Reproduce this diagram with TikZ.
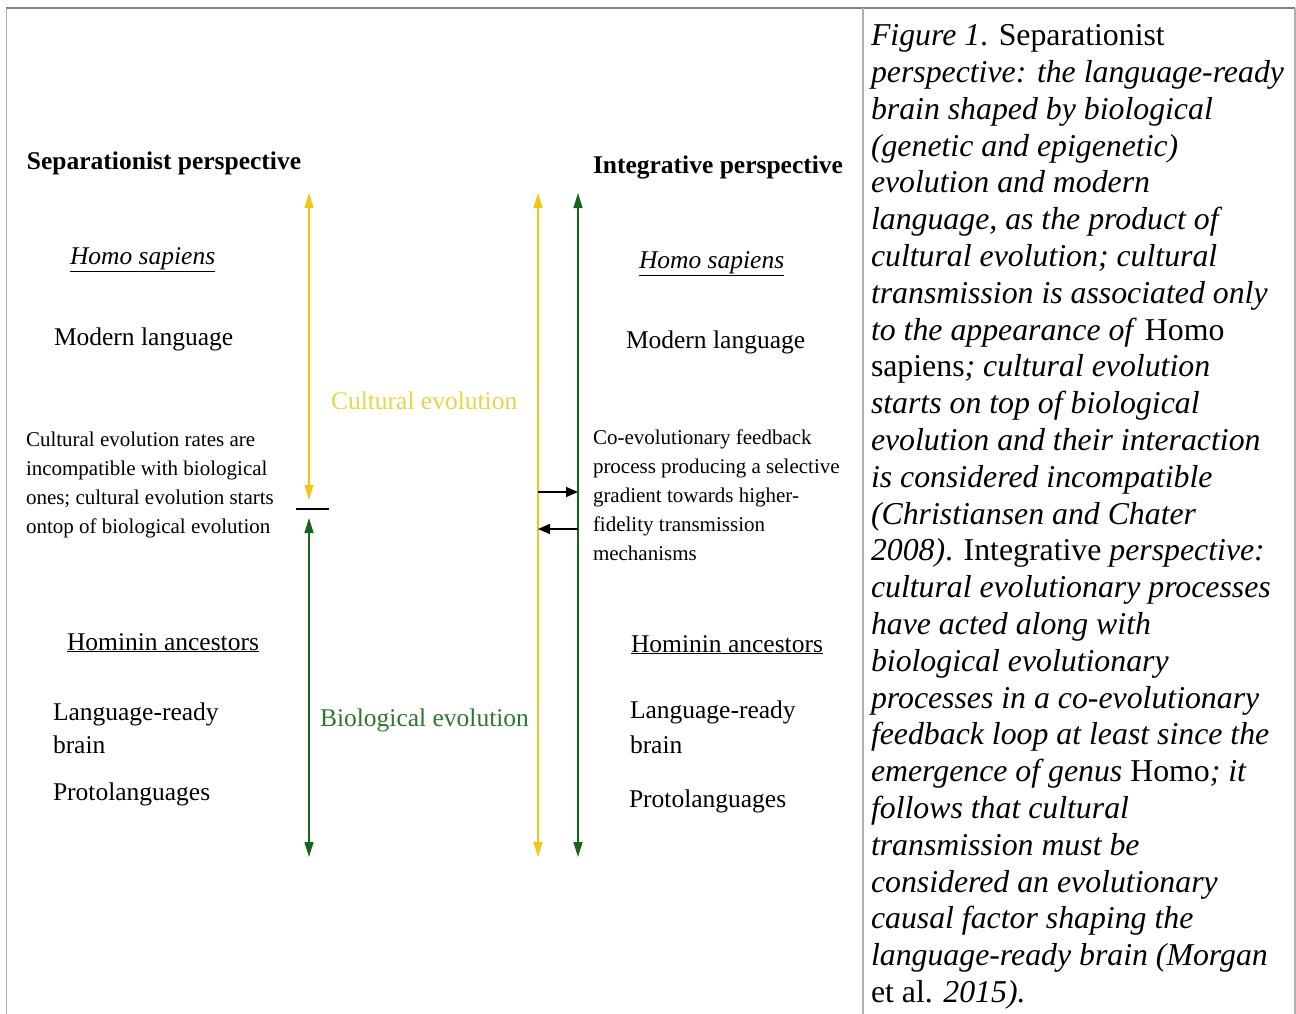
\documentclass[tikz,border=0pt]{standalone}
\usepackage{fontspec}
\setmainfont{Liberation Serif}
\usetikzlibrary{arrows.meta}

\definecolor{culture}{RGB}{244,196,24}
\definecolor{culturetext}{RGB}{232,212,72}
\definecolor{biology}{RGB}{22,100,28}
\definecolor{biologytext}{RGB}{46,118,46}
\definecolor{frametop}{RGB}{128,128,128}
\definecolor{frameside}{RGB}{176,176,176}

\begin{document}
\begin{tikzpicture}[x=1pt,y=-1pt,
  every node/.style={inner sep=0pt,outer sep=0pt},
  lbl/.style={anchor=base west,font=\fontsize{25.5}{30}\selectfont},
  headline/.style={anchor=base west,font=\bfseries\fontsize{25.5}{30}\selectfont},
  note/.style={anchor=base west,font=\fontsize{21}{29}\selectfont},
  capline/.style={anchor=base west,font=\itshape\fontsize{31.8}{36.8}\selectfont},
  axis/.style={line width=1.4pt,
    {Triangle[length=15pt,width=9pt]}-{Triangle[length=15pt,width=9pt]}},
  link/.style={line width=1.5pt,-{Triangle[length=12pt,width=10pt]}}]

\useasboundingbox (0,0) rectangle (1296,1014);

% frame and column divider
\draw[frametop,line width=1.5pt] (6,8) -- (1295,8);
\draw[frameside,line width=1.5pt] (6.5,8) -- (6.5,1014);
\draw[frameside,line width=1.5pt] (1295,8) -- (1295,1014);
\draw[frameside,line width=1.5pt] (863,8) -- (863,1014);

% ---------- separationist column ----------
\node[headline] (sepHead) at (27,170) {Separationist perspective};
\node[lbl] (sepHomo) at (70,264) {\underline{\textit{Homo sapiens}}};
\node[lbl] (sepModern) at (54,345) {Modern language};
\node[note] (sepNote1) at (26,446) {Cultural evolution rates are};
\node[note] (sepNote2) at (26,475) {incompatible with biological};
\node[note] (sepNote3) at (26,504) {ones; cultural evolution starts};
\node[note] (sepNote4) at (26,533) {ontop of biological evolution};
\node[lbl] (sepHominin) at (67,650) {\underline{Hominin ancestors}};
\node[lbl] (sepReady1) at (53,720) {Language-ready};
\node[lbl] (sepReady2) at (53,753) {brain};
\node[lbl] (sepProto) at (53,800) {Protolanguages};

\coordinate (sepCultTop) at (309,193);
\coordinate (sepCultBot) at (309,500);
\coordinate (sepBioTop) at (309,518);
\coordinate (sepBioBot) at (309,857);
\coordinate (splitL) at (296,509);
\coordinate (splitR) at (329,509);

\draw[axis,culture] (sepCultTop) -- (sepCultBot);
\draw[line width=1.4pt] (splitL) -- (splitR);
\draw[axis,biology] (sepBioTop) -- (sepBioBot);

\node[lbl,text=culturetext] (cultLbl) at (331,409) {Cultural evolution};
\node[lbl,text=biologytext] (bioLbl) at (320,726) {Biological evolution};

% ---------- integrative column ----------
\coordinate (intCultTop) at (538,193);
\coordinate (intCultBot) at (538,857);
\coordinate (intBioTop) at (578,193);
\coordinate (intBioBot) at (578,857);
\coordinate (fbOutA) at (538,492);
\coordinate (fbInA) at (578,492);
\coordinate (fbOutB) at (578,529);
\coordinate (fbInB) at (538,529);

\draw[axis,culture] (intCultTop) -- (intCultBot);
\draw[axis,biology] (intBioTop) -- (intBioBot);
\draw[link] (fbOutA) -- (fbInA);
\draw[link] (fbOutB) -- (fbInB);

\node[headline] (intHead) at (593,173) {Integrative perspective};
\node[lbl] (intHomo) at (639,268) {\underline{\textit{Homo sapiens}}};
\node[lbl] (intModern) at (626,348) {Modern language};
\node[note] (intNote1) at (593,444) {Co-evolutionary feedback};
\node[note] (intNote2) at (593,473) {process producing a selective};
\node[note] (intNote3) at (593,502) {gradient towards higher-};
\node[note] (intNote4) at (593,531) {fidelity transmission};
\node[note] (intNote5) at (593,560) {mechanisms};
\node[lbl] (intHominin) at (631,652) {\underline{Hominin ancestors}};
\node[lbl] (intReady1) at (630,718) {Language-ready};
\node[lbl] (intReady2) at (630,753) {brain};
\node[lbl] (intProto) at (629,807) {Protolanguages};

% ---------- caption ----------
\foreach \captext [count=\i] in {
  {Figure 1\textup{. Separationist}},
  {perspective: the language-ready},
  {brain shaped by biological},
  {(genetic and epigenetic)},
  {evolution and modern},
  {language, as the product of},
  {cultural evolution; cultural},
  {transmission is associated only},
  {to the appearance of \textup{Homo}},
  {\textup{sapiens}; cultural evolution},
  {starts on top of biological},
  {evolution and their interaction},
  {is considered incompatible},
  {(Christiansen and Chater},
  {2008)\textup{. Integrative} perspective:},
  {cultural evolutionary processes},
  {have acted along with},
  {biological evolutionary},
  {processes in a co-evolutionary},
  {feedback loop at least since the},
  {emergence of genus \textup{Homo}; it},
  {follows that cultural},
  {transmission must be},
  {considered an evolutionary},
  {causal factor shaping the},
  {language-ready brain (Morgan},
  {\textup{et al.} 2015).}}
  \node[capline] (cap\i) at (871,{45.7+36.8*(\i-1)}) {\captext};

\end{tikzpicture}
\end{document}
